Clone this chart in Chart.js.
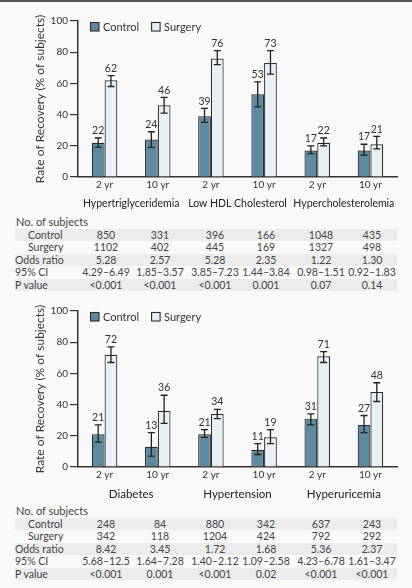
<!DOCTYPE html>
<html><head><meta charset="utf-8">
<script src="https://cdn.jsdelivr.net/npm/chart.js@4.4.1/dist/chart.umd.min.js"></script>
<style>
html,body{margin:0;padding:0;}
body{width:412px;height:588px;background:#f9f9f9;position:relative;overflow:hidden;font-family:Lato,"Open Sans",sans-serif;color:#333;}
#topline{position:absolute;left:0;top:0;width:412px;height:2px;background:#555;}
.cv{position:absolute;left:0;width:412px;height:213px;}
.tbl{position:absolute;left:0;width:412px;font-size:10.5px;color:#444;}
.band{position:absolute;left:15px;width:382px;height:12px;}
.cell{position:absolute;white-space:nowrap;line-height:12px;}
.num{transform:translateX(-50%);}
</style>
</head><body>
<div id="topline"></div>
<canvas id="c1" class="cv" width="412" height="213" style="top:0px"></canvas>
<div id="t1" class="tbl" style="top:216px"></div>
<canvas id="c2" class="cv" width="412" height="213" style="top:290px"></canvas>
<div id="t2" class="tbl" style="top:505px"></div>
<script>
// ---------- data ----------
const periods = ['2 yr','10 yr','2 yr','10 yr','2 yr','10 yr'];
const topGroups = ['Hypertriglyceridemia','Low HDL Cholesterol','Hypercholesterolemia'];
const botGroups = ['Diabetes','Hypertension','Hyperuricemia'];
const yTicks = [0,20,40,60,80,100];

const topControl = [22,24,39,53,17,17];
const topControlLo = [19,19,35,45,15,14];
const topControlHi = [25,29,44,61,20,21];
const topSurgery = [62,46,76,73,22,21];
const topSurgeryLo = [58,41,72,66,20,18];
const topSurgeryHi = [65,51,81,81,25,26];

const botControl = [21,13,21,11,31,27];
const botControlLo = [16,7,19,8,27,22];
const botControlHi = [27,22,24,15,34,33];
const botSurgery = [72,36,34,19,71,48];
const botSurgeryLo = [67,28,31,15,67,42];
const botSurgeryHi = [77,46,37,24,74,54];

const rowLabels = ['Control','Surgery','Odds ratio','95% CI','P value'];
const topControlN = ['850','331','396','166','1048','435'];
const topSurgeryN = ['1102','402','445','169','1327','498'];
const topOR = ['5.28','2.57','5.28','2.35','1.22','1.30'];
const topCI = ['4.29–6.49','1.85–3.57','3.85–7.23','1.44–3.84','0.98–1.51','0.92–1.83'];
const topP = ['<0.001','<0.001','<0.001','0.001','0.07','0.14'];
const botControlN = ['248','84','880','342','637','243'];
const botSurgeryN = ['342','118','1204','424','792','292'];
const botOR = ['8.42','3.45','1.72','1.68','5.36','2.37'];
const botCI = ['5.68–12.5','1.64–7.28','1.40–2.12','1.09–2.58','4.23–6.78','1.61–3.47'];
const botP = ['<0.001','0.001','<0.001','0.02','<0.001','<0.001'];

// ---------- style ----------
const FONT = 'Lato, "Open Sans", sans-serif';
const INK = '#333';
const CONTROL_COLOR = '#5b8aa1';
const SURGERY_COLOR = '#e6f0f5';

const errorBarPlugin = {
  id: 'errorBars',
  afterDatasetsDraw(chart) {
    const ctx = chart.ctx;
    const ys = chart.scales.y;
    chart.data.datasets.forEach((ds, i) => {
      const meta = chart.getDatasetMeta(i);
      meta.data.forEach((el, j) => {
        const x = el.x;
        const yHi = ys.getPixelForValue(ds.errHi[j]);
        const yLo = ys.getPixelForValue(ds.errLo[j]);
        ctx.save();
        ctx.strokeStyle = '#222';
        ctx.lineWidth = 1.3;
        ctx.beginPath();
        ctx.moveTo(x, yHi); ctx.lineTo(x, yLo);
        ctx.moveTo(x - 3.5, yHi); ctx.lineTo(x + 3.5, yHi);
        ctx.moveTo(x - 3.5, yLo); ctx.lineTo(x + 3.5, yLo);
        ctx.stroke();
        ctx.fillStyle = INK;
        ctx.font = '10.5px ' + FONT;
        ctx.textAlign = 'center';
        ctx.textBaseline = 'bottom';
        ctx.fillText(String(ds.data[j]), x, yHi - 2);
        ctx.restore();
      });
    });
  }
};

// legend drawn inside the chart area, top-left, in one row
const innerLegend = {
  id: 'innerLegend',
  afterDraw(chart) {
    const ctx = chart.ctx;
    const area = chart.chartArea;
    let x = area.left + 12;
    const y = area.top + 1;
    ctx.save();
    ctx.font = '11px ' + FONT;
    ctx.textBaseline = 'middle';
    ctx.textAlign = 'left';
    chart.data.datasets.forEach(ds => {
      ctx.fillStyle = ds.backgroundColor;
      ctx.fillRect(x, y, 9, 9);
      ctx.strokeStyle = ds.borderColor;
      ctx.lineWidth = 1.1;
      ctx.strokeRect(x + 0.5, y + 0.5, 8.5, 8.5);
      ctx.fillStyle = INK;
      ctx.fillText(ds.label, x + 13, y + 5);
      x += 13 + ctx.measureText(ds.label).width + 12;
    });
    ctx.restore();
  }
};

function makeChart(id, groups, groupFontSize, ctrl, ctrlLo, ctrlHi, surg, surgLo, surgHi) {
  return new Chart(document.getElementById(id), {
    type: 'bar',
    data: {
      labels: periods,
      datasets: [
        { label: 'Control', data: ctrl, errLo: ctrlLo, errHi: ctrlHi,
          backgroundColor: CONTROL_COLOR, borderColor: '#2b2b2b', borderWidth: 1.2,
          categoryPercentage: 0.48, barPercentage: 1.0, xAxisID: 'x' },
        { label: 'Surgery', data: surg, errLo: surgLo, errHi: surgHi,
          backgroundColor: SURGERY_COLOR, borderColor: '#2b2b2b', borderWidth: 1.2,
          categoryPercentage: 0.48, barPercentage: 1.0, xAxisID: 'x' }
      ]
    },
    options: {
      responsive: false,
      animation: false,
      events: [],
      layout: { padding: { top: 21, right: 15, bottom: 0, left: 0 } },
      plugins: {
        legend: { display: false },
        tooltip: { enabled: false }
      },
      scales: {
        y: {
          min: 0, max: 100,
          afterBuildTicks(s) { s.ticks = yTicks.map(v => ({ value: v })); },
          afterFit(s) { s.width = 78; },
          ticks: { color: INK, padding: 2, font: { family: FONT, size: 10 } },
          grid: { display: true, drawOnChartArea: false, drawTicks: true, tickLength: 8,
                  color: INK, lineWidth: 1.2 },
          border: { display: true, color: INK, width: 1.5 },
          title: { display: true, text: 'Rate of Recovery (% of subjects)', color: INK,
                   font: { family: FONT, size: 12 }, padding: { top: 33, bottom: 0 } }
        },
        x: {
          type: 'category', position: 'bottom', offset: true,
          afterFit(s) { s.height = 16; },
          ticks: { color: INK, padding: 2, maxRotation: 0, minRotation: 0, autoSkip: false,
                   font: { family: FONT, size: 10 } },
          grid: { display: false, drawTicks: false },
          border: { display: true, color: INK, width: 1.5 }
        },
        x2: {
          type: 'category', position: 'bottom', offset: true, labels: groups,
          afterFit(s) { s.height = 20; },
          ticks: { color: '#222', padding: 4, maxRotation: 0, minRotation: 0, autoSkip: false,
                   font: { family: FONT, size: groupFontSize } },
          grid: { display: false, drawTicks: false },
          border: { display: false }
        }
      }
    },
    plugins: [errorBarPlugin, innerLegend]
  });
}

makeChart('c1', topGroups, 10.5, topControl, topControlLo, topControlHi, topSurgery, topSurgeryLo, topSurgeryHi);
makeChart('c2', botGroups, 11.5, botControl, botControlLo, botControlHi, botSurgery, botSurgeryLo, botSurgeryHi);

// ---------- tables ----------
const colX = [106, 160, 215, 266, 321, 372];
const labelX = [28, 28, 15, 15, 15];
function buildTable(id, rows) {
  const el = document.getElementById(id);
  let html = '<div class="cell" style="left:16px;top:0px;font-size:11px">No. of subjects</div>';
  rows.forEach((vals, r) => {
    const top = 13 + r * 12.4;
    if (r % 2 === 0) html += `<div class="band" style="top:${top}px;background:#ececec"></div>`;
    html += `<div class="cell" style="left:${labelX[r]}px;top:${top}px">${rowLabels[r]}</div>`;
    vals.forEach((v, c) => {
      const t = v.replace('<', '&lt;');
      html += `<div class="cell num" style="left:${colX[c]}px;top:${top}px">${t}</div>`;
    });
  });
  el.innerHTML = html;
}
buildTable('t1', [topControlN, topSurgeryN, topOR, topCI, topP]);
buildTable('t2', [botControlN, botSurgeryN, botOR, botCI, botP]);
</script>
</body></html>
